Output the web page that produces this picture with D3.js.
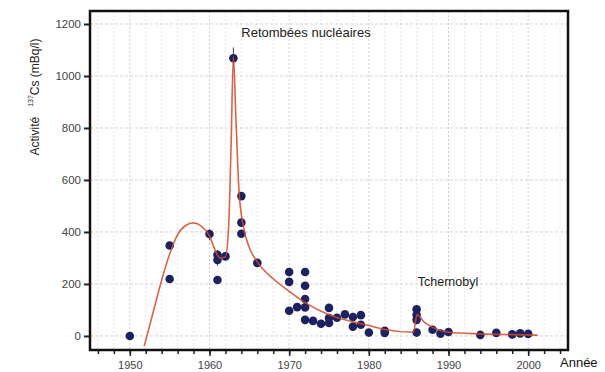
<!DOCTYPE html>
<html>
<head>
<meta charset="utf-8">
<script src="https://d3js.org/d3.v7.min.js"></script>
<style>
  body { margin: 0; background: #fff; }
  text { font-family: "Liberation Sans", Arial, sans-serif; }
</style>
</head>
<body>
<svg id="chart" width="605" height="372"></svg>
<script>
// measured points: [year, activity]
const years = [1950, 1955, 1955, 1960, 1961, 1961, 1961, 1962, 1963, 1964, 1964, 1964, 1966,
  1970, 1970, 1970, 1971, 1972, 1972, 1972, 1972, 1972, 1973, 1974, 1975, 1975, 1975, 1976,
  1977, 1978, 1978, 1979, 1979, 1980, 1982, 1982, 1986, 1986, 1986, 1986, 1988, 1989, 1990,
  1994, 1996, 1998, 1999, 2000];
const activity = [0, 348, 219, 392, 312, 292, 215, 306, 1068, 538, 436, 393, 281,
  246, 208, 97, 111, 246, 193, 142, 110, 62, 58, 47, 50, 108, 69, 70,
  83, 73, 36, 80, 43, 13, 12, 20, 103, 81, 62, 13, 24, 9, 15,
  4, 12, 6, 10, 8];

// error bars: [year, low, high]
const errYears = [1961, 1963, 1960];
const errLow = [270, 1040, 370];
const errHigh = [330, 1110, 410];

// fitted model curve
const fitYears = [1951.8, 1953, 1954, 1955, 1956, 1957, 1958, 1959, 1960, 1960.7, 1961.3, 1962,
  1962.4, 1962.7, 1963, 1963.3, 1963.7, 1964.2, 1965, 1966, 1968, 1970, 1972, 1975, 1978,
  1980, 1982, 1985.6, 1986.05, 1987, 1988, 1990, 1994, 1998, 2001.2];
const fitValues = [-40, 100, 215, 315, 390, 425, 435, 422, 385, 330, 300, 305,
  420, 720, 1075, 850, 560, 430, 340, 285, 220, 172, 128, 82, 55,
  40, 25, 14, 82, 52, 33, 14, 8, 5, 3];

const xTicks = [1950, 1960, 1970, 1980, 1990, 2000];
const yTicks = [0, 200, 400, 600, 800, 1000, 1200];

const svg = d3.select("#chart");
const x = d3.scaleLinear().domain([1945, 2005]).range([90, 568]);
const y = d3.scaleLinear().domain([-54, 1250]).range([350, 11]);

// grid
const grid = svg.append("g");
grid.selectAll("line.vg").data(d3.range(1946, 2005, 2))
  .join("line").attr("class", "vg")
  .attr("x1", d => x(d)).attr("x2", d => x(d))
  .attr("y1", y.range()[1]).attr("y2", y.range()[0])
  .attr("stroke", d => d % 10 === 0 ? "#d0d0d0" : "#e8e8e8")
  .attr("stroke-width", 1).attr("stroke-dasharray", "2,2");
grid.selectAll("line.hg").data(yTicks)
  .join("line").attr("class", "hg")
  .attr("x1", 90).attr("x2", 568)
  .attr("y1", d => y(d)).attr("y2", d => y(d))
  .attr("stroke", "#d4d4d4").attr("stroke-width", 1).attr("stroke-dasharray", "3,2");

// axes
const xAxis = d3.axisBottom(x).tickValues(xTicks).tickFormat(d3.format("d"))
  .tickSize(6).tickPadding(5);
const xMinor = d3.axisBottom(x).tickValues(d3.range(1946, 2005, 2)).tickFormat("").tickSize(4);
const yAxis = d3.axisLeft(y).tickValues(yTicks).tickFormat(d3.format("d"))
  .tickSize(6).tickPadding(3);

svg.append("g").attr("transform", "translate(0,350)").call(xMinor)
  .call(g => g.select(".domain").remove())
  .selectAll("line").attr("stroke", "#222").attr("stroke-width", 1.5);
const gx = svg.append("g").attr("transform", "translate(0,350)").call(xAxis);
gx.select(".domain").remove();
gx.selectAll("line").attr("stroke", "#222").attr("stroke-width", 1.5);
gx.selectAll("text").attr("font-size", 11).attr("fill", "#444");

const gy = svg.append("g").attr("transform", "translate(90,0)").call(yAxis);
gy.select(".domain").remove();
gy.selectAll("line").attr("stroke", "#222").attr("stroke-width", 2);
gy.selectAll("text").attr("font-size", 11.5).attr("fill", "#444");

// frame
svg.append("rect").attr("x", 90).attr("y", 11).attr("width", 478).attr("height", 339)
  .attr("fill", "none").attr("stroke", "#111").attr("stroke-width", 2.5);

// error bars
svg.append("g").selectAll("line").data(errYears)
  .join("line")
  .attr("x1", d => x(d)).attr("x2", d => x(d))
  .attr("y1", (d, i) => y(errLow[i])).attr("y2", (d, i) => y(errHigh[i]))
  .attr("stroke", "#4a3a6a").attr("stroke-width", 1);

// points
svg.append("g").selectAll("circle").data(years)
  .join("circle")
  .attr("cx", d => x(d))
  .attr("cy", (d, i) => y(activity[i]))
  .attr("r", 4.3)
  .attr("fill", "#1c2160");

// fitted curve
const line = d3.line().x(d => x(d[0])).y(d => y(d[1])).curve(d3.curveMonotoneX);
svg.append("path")
  .datum(fitYears.map((d, i) => [d, fitValues[i]]))
  .attr("d", line)
  .attr("fill", "none").attr("stroke", "#d0492a").attr("stroke-width", 1.6)
  .attr("stroke-opacity", 0.85);

// labels
svg.append("text").attr("x", 306).attr("y", 37).attr("text-anchor", "middle")
  .attr("font-size", 13).attr("fill", "#222").text("Retombées nucléaires");
svg.append("text").attr("x", 448).attr("y", 286).attr("text-anchor", "middle")
  .attr("font-size", 12.5).attr("fill", "#222").text("Tchernobyl");
svg.append("text").attr("x", 560).attr("y", 367)
  .attr("font-size", 13).attr("fill", "#111").text("Année");

const yl = svg.append("text")
  .attr("transform", "translate(39,97) rotate(-90)")
  .attr("text-anchor", "middle").attr("font-size", 12).attr("fill", "#222");
yl.append("tspan").text("Activité");
yl.append("tspan").attr("font-size", 7).attr("dx", 10).attr("dy", -6).text("137");
yl.append("tspan").attr("dy", 6).text("Cs (mBq/l)");
</script>
</body>
</html>
